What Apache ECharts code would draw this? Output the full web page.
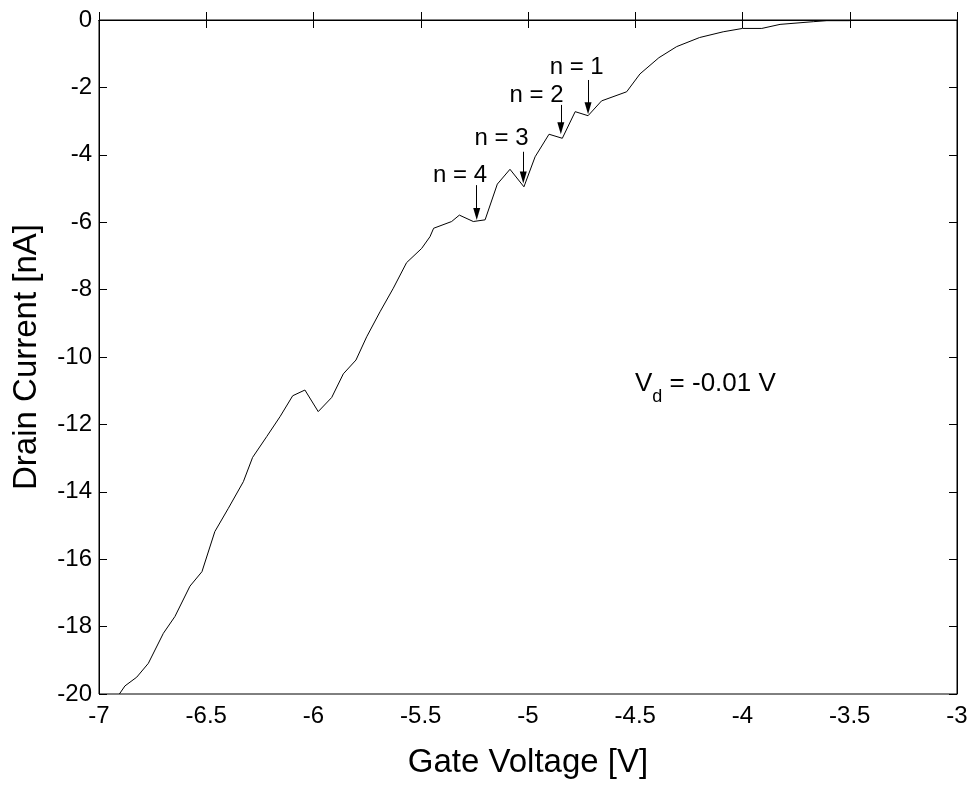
<!DOCTYPE html>
<html>
<head>
<meta charset="utf-8">
<script src="https://cdn.jsdelivr.net/npm/echarts@6/dist/echarts.min.js"></script>
<style>
html,body{margin:0;padding:0;background:#fff;}
#chart{width:970px;height:789px;}
</style>
</head>
<body>
<div id="chart"></div>
<script>
// Gate voltage [V]
const gateVoltage = [-6.905,-6.879,-6.824,-6.77,-6.70,-6.646,-6.576,-6.52,-6.46,-6.397,-6.327,-6.284,-6.218,-6.156,-6.097,-6.04,-5.978,-5.915,-5.861,-5.802,-5.752,-5.69,-5.628,-5.566,-5.496,-5.457,-5.44,-5.356,-5.32,-5.255,-5.20,-5.143,-5.084,-5.019,-4.967,-4.902,-4.84,-4.78,-4.72,-4.657,-4.54,-4.478,-4.39,-4.307,-4.2,-4.09,-4.0,-3.91,-3.825,-3.67,-3.607,-3.5];
// Drain current [nA]
const drainCurrent = [-20.0,-19.76,-19.5,-19.09,-18.2,-17.7,-16.8,-16.37,-15.18,-14.49,-13.7,-12.98,-12.36,-11.77,-11.15,-10.98,-11.62,-11.2,-10.5,-10.09,-9.4,-8.66,-7.96,-7.2,-6.78,-6.43,-6.18,-5.98,-5.79,-5.98,-5.93,-4.87,-4.43,-4.95,-4.06,-3.39,-3.51,-2.72,-2.84,-2.40,-2.13,-1.60,-1.12,-0.79,-0.52,-0.35,-0.25,-0.25,-0.13,-0.05,-0.02,-0.02];

// Annotations: labels, label positions and arrows (data coordinates)
const annLabels = ['n = 1','n = 2','n = 3','n = 4'];
const annLabelX = [-4.773,-4.96,-5.123,-5.317];
const annLabelY = [-1.40,-2.23,-3.51,-4.60];
const arrowX = [-4.72,-4.847,-5.022,-5.239];
const arrowYStart = [-1.78,-2.52,-3.91,-4.90];
const arrowYEnd = [-2.62,-3.21,-4.67,-5.76];

const xTicks = {min:-7, max:-3, interval:0.5};
const yTicks = {min:-20, max:0, interval:2};

const FONT = '"Liberation Sans", Arial, sans-serif';
const chart = echarts.init(document.getElementById('chart'));

const lineData = gateVoltage.map((x,i)=>[x, drainCurrent[i]]);
const arrows = arrowX.map((x,i)=>[{coord:[x, arrowYStart[i]]},{coord:[x, arrowYEnd[i]]}]);
const labelData = annLabels.map((t,i)=>({value:[annLabelX[i], annLabelY[i]], name:t}));

const axisCommon = {
  axisLine:{show:true, lineStyle:{color:'#000', width:1}},
  axisTick:{show:true, inside:true, length:8, lineStyle:{color:'#000', width:1}},
  splitLine:{show:false}
};

chart.setOption({
  animation:false,
  backgroundColor:'#fff',
  grid:{left:99, right:13, top:20, bottom:95, containLabel:false, outerBoundsMode:'none',
    show:true, borderColor:'#000', borderWidth:1},
  xAxis:[
    Object.assign({type:'value', min:xTicks.min, max:xTicks.max, interval:xTicks.interval,
      name:'Gate Voltage [V]', nameLocation:'middle', nameGap:52,
      nameTextStyle:{fontFamily:FONT, fontSize:33, color:'#000'},
      axisLabel:{fontFamily:FONT, fontSize:24, color:'#000', margin:10}}, axisCommon),
    Object.assign({type:'value', position:'top', min:xTicks.min, max:xTicks.max, interval:xTicks.interval,
      axisLabel:{show:false}}, axisCommon)
  ],
  yAxis:[
    Object.assign({type:'value', min:yTicks.min, max:yTicks.max, interval:yTicks.interval,
      name:'Drain Current [nA]', nameLocation:'middle', nameGap:56, nameRotate:90,
      nameTextStyle:{fontFamily:FONT, fontSize:33, color:'#000'},
      axisLabel:{fontFamily:FONT, fontSize:24, color:'#000', margin:7}}, axisCommon),
    Object.assign({type:'value', position:'right', min:yTicks.min, max:yTicks.max, interval:yTicks.interval,
      axisLabel:{show:false}}, axisCommon)
  ],
  series:[
    {
      type:'line', data:lineData, showSymbol:false, symbol:'none',
      lineStyle:{color:'#000', width:1}, clip:true,
      markLine:{
        silent:true, symbol:['none','triangle'], symbolSize:[7,12],
        lineStyle:{color:'#000', width:1, type:'solid'},
        itemStyle:{color:'#000'},
        label:{show:false},
        data:arrows
      }
    },
    {
      type:'scatter', data:labelData, symbolSize:0, silent:true,
      itemStyle:{opacity:1, color:'#000'},
      label:{show:true, position:'inside', formatter:p=>p.name,
        fontFamily:FONT, fontSize:24, color:'#000', textBorderWidth:0}
    }
  ],
  graphic:[{
    type:'text', left:635, top:371,
    style:{
      text:'{v|V}{d|d}{v| = -0.01 V}',
      rich:{
        v:{fontFamily:FONT, fontSize:26, fill:'#000', verticalAlign:'bottom', lineHeight:30},
        d:{fontFamily:FONT, fontSize:18, fill:'#000', verticalAlign:'bottom', lineHeight:30, padding:[0,0,-9,0]}
      }
    }
  }]
});
</script>
</body>
</html>
